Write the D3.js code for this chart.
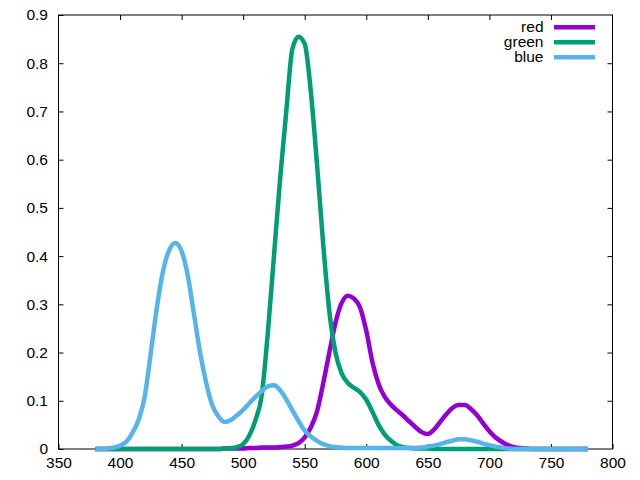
<!DOCTYPE html>
<html>
<head>
<meta charset="utf-8">
<script src="https://cdn.jsdelivr.net/npm/d3@7"></script>
<style>
	body { margin: 0; background: #fff; }
	text { font-family: "Liberation Sans", Arial, sans-serif; }
</style>
</head>
<body>
<div id="chart"></div>
<script>
// Data, sampled every 5 nm
const wavelengths = [380, 385, 390, 395, 400, 405, 410, 415, 420, 425, 430, 435, 440, 445, 450, 455, 460, 465, 470, 475,
	480, 485, 490, 495, 500, 505, 510, 515, 520, 525, 530, 535, 540, 545, 550, 555, 560, 565, 570, 575,
	580, 585, 590, 595, 600, 605, 610, 615, 620, 625, 630, 635, 640, 645, 650, 655, 660, 665, 670, 675,
	680, 685, 690, 695, 700, 705, 710, 715, 720, 725, 730, 735, 740, 745, 750, 755, 760, 765, 770, 775, 780]

const redValues = [0, 0, 0, 0, 0, 0, 0, 0, 0, 0, 0, 0, 0, 0, 0, 0, 0, 0, 0, 0,
	0, 0.001, 0.001, 0.001, 0.001, 0.002, 0.002, 0.003, 0.003, 0.003, 0.004, 0.005, 0.007, 0.012, 0.024, 0.045, 0.078, 0.136, 0.2, 0.262,
	0.303, 0.318, 0.312, 0.293, 0.245, 0.18, 0.135, 0.108, 0.092, 0.08, 0.069, 0.057, 0.045, 0.035, 0.031, 0.04, 0.056, 0.072, 0.085, 0.091,
	0.091, 0.083, 0.07, 0.053, 0.037, 0.024, 0.015, 0.008, 0.004, 0.002, 0.001, 0, 0, 0, 0, 0, 0, 0, 0, 0, 0]

const greenValues = [0, 0, 0, 0, 0, 0, 0, 0, 0, 0, 0, 0, 0, 0, 0, 0, 0, 0, 0, 0,
	0, 0.001, 0.002, 0.004, 0.01, 0.028, 0.06, 0.11, 0.24, 0.4, 0.56, 0.7, 0.83, 0.855, 0.84, 0.74, 0.59, 0.425, 0.285, 0.2,
	0.157, 0.137, 0.127, 0.118, 0.102, 0.077, 0.05, 0.03, 0.017, 0.008, 0.004, 0.002, 0.001, 0.001, 0.001, 0, 0, 0, 0, 0,
	0, 0, 0, 0, 0, 0, 0, 0, 0, 0, 0, 0, 0, 0, 0, 0, 0, 0, 0, 0, 0]

const blueValues = [0, 0, 0.001, 0.003, 0.007, 0.015, 0.033, 0.06, 0.108, 0.2, 0.295, 0.37, 0.413, 0.427, 0.41, 0.36, 0.28, 0.2, 0.137, 0.09,
	0.067, 0.056, 0.06, 0.07, 0.081, 0.095, 0.108, 0.12, 0.13, 0.132, 0.122, 0.103, 0.08, 0.058, 0.038, 0.026, 0.017, 0.01, 0.006, 0.004,
	0.003, 0.002, 0.002, 0.002, 0.002, 0.002, 0.002, 0.002, 0.002, 0.002, 0.002, 0.002, 0.002, 0.003, 0.005, 0.007, 0.01, 0.014, 0.017, 0.02,
	0.02, 0.018, 0.015, 0.011, 0.008, 0.005, 0.003, 0.001, 0, 0, 0, 0, 0, 0, 0, 0, 0, 0, 0, 0, 0]

const seriesNames = ["red", "green", "blue"]
const seriesColors = ["#9400d3", "#009e73", "#56b4e9"]

const xTicks = [350, 400, 450, 500, 550, 600, 650, 700, 750, 800]
const yTicks = [0, 0.1, 0.2, 0.3, 0.4, 0.5, 0.6, 0.7, 0.8, 0.9]

// Layout
const width = 640, height = 480
const margin = { top: 15, right: 27.5, bottom: 31, left: 58.5 }
const innerW = width - margin.left - margin.right
const innerH = height - margin.top - margin.bottom

const svg = d3.select("#chart")
	.append("svg")
	.attr("width", width)
	.attr("height", height)

const container = svg.append("g")
	.attr("transform", `translate(${margin.left},${margin.top})`)

// Scales
const xScale = d3.scaleLinear().domain([350, 800]).range([0, innerW])
const yScale = d3.scaleLinear().domain([0, 0.9]).range([innerH, 0])

const fmt = d3.format("~g")

// Axes with inward ticks, mirrored on top and right
function styleAxis(g) {
	g.select(".domain").remove()
	g.selectAll("line").attr("stroke", "#000")
	g.selectAll("text").attr("font-size", "15.5px").attr("fill", "#000")
}

container.append("g")
	.attr("transform", `translate(0,${innerH})`)
	.call(d3.axisBottom(xScale).tickValues(xTicks).tickFormat(fmt).tickSizeInner(-5).tickSizeOuter(0).tickPadding(7.5))
	.call(styleAxis)

container.append("g")
	.call(d3.axisTop(xScale).tickValues(xTicks.slice(1, -1)).tickFormat("").tickSizeInner(-5).tickSizeOuter(0))
	.call(styleAxis)

container.append("g")
	.call(d3.axisLeft(yScale).tickValues(yTicks).tickFormat(fmt).tickSizeInner(-5).tickSizeOuter(0).tickPadding(10.5))
	.call(styleAxis)

container.append("g")
	.attr("transform", `translate(${innerW},0)`)
	.call(d3.axisRight(yScale).tickValues(yTicks.slice(1, -1)).tickFormat("").tickSizeInner(-5).tickSizeOuter(0))
	.call(styleAxis)

// Border
container.append("rect")
	.attr("x", 0)
	.attr("y", 0)
	.attr("width", innerW)
	.attr("height", innerH)
	.attr("fill", "none")
	.attr("stroke", "#000")
	.attr("stroke-width", 1)

// Curves
const allValues = [redValues, greenValues, blueValues]
const line = d3.line()
	.x((d, i) => xScale(wavelengths[i]))
	.y((d) => yScale(d))
	.curve(d3.curveMonotoneX)

container.append("g").selectAll("path")
	.data(allValues)
	.join("path")
	.attr("d", (d) => line(d))
	.attr("fill", "none")
	.attr("stroke", (d, i) => seriesColors[i])
	.attr("stroke-width", 4.5)
	.attr("stroke-linejoin", "round")

// Legend
const legend = svg.append("g")
	.selectAll("g")
	.data(seriesNames)
	.join("g")
	.attr("transform", (d, i) => `translate(0,${27.3 + i * 15})`)

legend.append("text")
	.attr("x", 543.5)
	.attr("dy", "0.32em")
	.attr("text-anchor", "end")
	.attr("font-size", "15.5px")
	.text((d) => d)

legend.append("line")
	.attr("x1", 554)
	.attr("x2", 595)
	.attr("stroke", (d, i) => seriesColors[i])
	.attr("stroke-width", 4.5)
</script>
</body>
</html>
